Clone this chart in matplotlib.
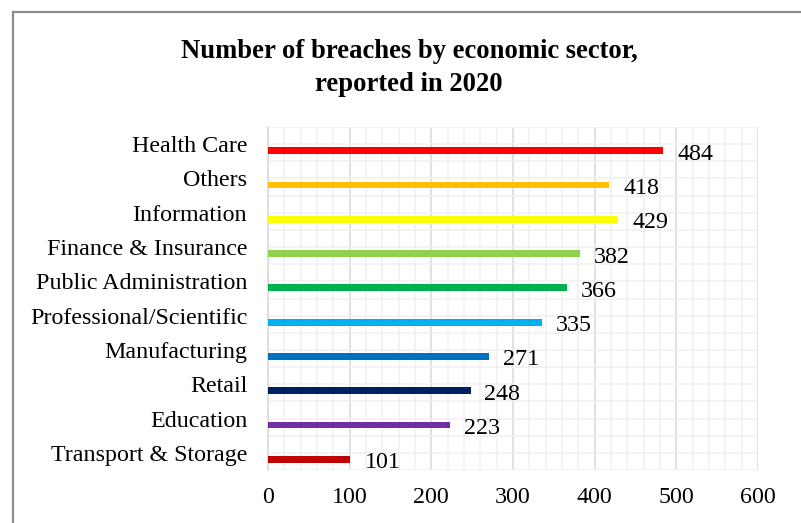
import matplotlib
matplotlib.use("Agg")
import matplotlib.pyplot as plt
from matplotlib.lines import Line2D
from matplotlib.ticker import MultipleLocator, FixedLocator
import numpy as np

categories = ["Health Care", "Others", "Information", "Finance & Insurance",
              "Public Administration", "Professional/Scientific", "Manufacturing",
              "Retail", "Education", "Transport & Storage"]
values = [484, 418, 429, 382, 366, 335, 271, 248, 223, 101]
colors = ["#FF0000", "#FFC000", "#FFFF00", "#92D050", "#00B050",
          "#00B0F0", "#0070C0", "#002060", "#7030A0", "#C00000"]
title = "Number of breaches by economic sector,\nreported in 2020"
x_ticks = [0, 100, 200, 300, 400, 500, 600]

plt.rcParams['font.family'] = ['Liberation Serif', 'DejaVu Serif']

W, H = 801, 523
fig = plt.figure(figsize=(W / 100, H / 100), dpi=100)
fig.patch.set_facecolor("white")

# chart border (top and left visible)
fig.add_artist(Line2D([13 / W, 13 / W], [0, 1 - 12 / H], transform=fig.transFigure,
                      color="#8c8c8c", lw=1.6))
fig.add_artist(Line2D([13 / W, 1], [1 - 12 / H, 1 - 12 / H], transform=fig.transFigure,
                      color="#8c8c8c", lw=1.6))

left, right, top, bottom = 268 / W, 758 / W, 127 / H, 470 / H
ax = fig.add_axes([left, 1 - bottom, right - left, bottom - top])

n = len(categories)
ypos = np.arange(n)
ax.barh(ypos + 0.19, values, height=0.2, color=colors, zorder=3)

ax.set_xlim(0, 600)
ax.set_ylim(n - 0.5, -0.5)

# grid
ax.xaxis.set_major_locator(FixedLocator(x_ticks))
ax.xaxis.set_minor_locator(MultipleLocator(20))
ax.yaxis.set_major_locator(FixedLocator(ypos))
ax.yaxis.set_minor_locator(FixedLocator(np.arange(-0.5, n, 1.0)))
ax.grid(which="major", axis="x", color="#d9d9d9", lw=1.1, zorder=1)
ax.grid(which="minor", axis="x", color="#f0f0f0", lw=1.1, zorder=0)
ax.grid(which="major", axis="y", color="#f0f0f0", lw=1.1, zorder=0)
ax.grid(which="minor", axis="y", color="#f0f0f0", lw=1.1, zorder=0)
ax.set_axisbelow(True)

for s in ["top", "right", "bottom"]:
    ax.spines[s].set_visible(False)
ax.spines["left"].set_color("#d9d9d9")
ax.spines["left"].set_linewidth(1.1)

fs = 17.3
ax.set_yticks(ypos)
ax.set_yticklabels(categories)
ax.set_xticks(x_ticks)
ax.set_xticklabels([str(v) for v in x_ticks])
ax.tick_params(axis="both", which="both", length=0)
ax.tick_params(axis="y", pad=15, labelsize=fs, labelcolor="#000000")
ax.tick_params(axis="x", pad=12, labelsize=fs, labelcolor="#000000")

for yp, v in zip(ypos, values):
    ax.annotate(str(v), xy=(v, yp + 0.19), xytext=(10, -2.5), textcoords="offset points",
                ha="left", va="center", fontsize=fs, color="#000000")

fig.text(409 / W, 1 - 68 / H, title, ha="center", va="center", fontsize=19.2,
         fontweight="bold", linespacing=1.38)

fig.savefig("out.png", dpi=100, facecolor="white")
